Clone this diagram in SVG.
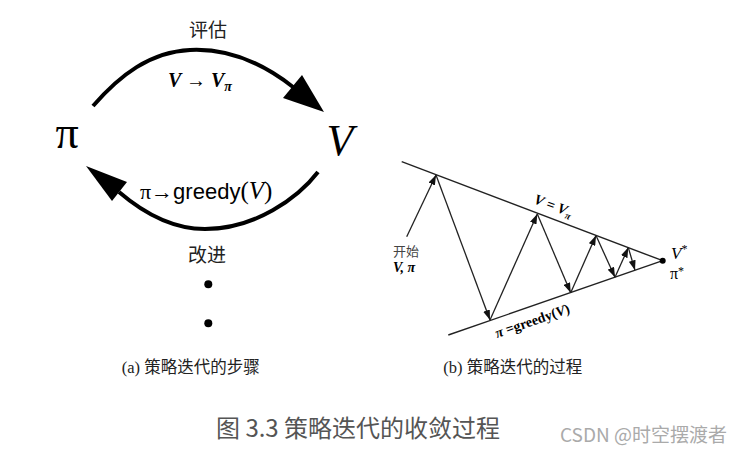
<svg xmlns="http://www.w3.org/2000/svg" width="747" height="456" viewBox="0 0 747 456">
<style>
.cjk{font-family:"Noto Sans CJK SC","Noto Sans",sans-serif}
.ser{font-family:"Liberation Serif","DejaVu Serif",serif}
.sans{font-family:"Liberation Sans","Noto Sans",sans-serif}
.bi{font-weight:bold;font-style:italic}
.thick{fill:none;stroke:#000;stroke-width:4;stroke-linecap:butt}
.thin{fill:none;stroke:#222;stroke-width:1.4}
.arr{fill:none;stroke:#222;stroke-width:1.3;marker-end:url(#ah)}
</style>
<defs>
<marker id="ah" viewBox="0 0 10 7" refX="10" refY="3.5" markerWidth="10" markerHeight="7" markerUnits="userSpaceOnUse" orient="auto">
<path d="M0,0 L10,3.5 L0,7 z" fill="#111"/>
</marker>
</defs>
<rect width="747" height="456" fill="#fff"/>

<!-- left diagram -->
<g id="node-pi"><text class="ser" x="67" y="148" font-size="46" text-anchor="middle">π</text></g>
<g id="node-V"><text class="ser" x="340" y="155" font-size="44" font-style="italic" text-anchor="middle">V</text></g>
<g id="label-eval"><text class="cjk" x="208" y="37" font-size="19" text-anchor="middle" fill="#222">评估</text></g>
<g id="label-improve"><text class="cjk" x="207" y="262" font-size="19" text-anchor="middle" fill="#222">改进</text></g>
<g id="connectors-left">
<path class="thick" d="M93,106 C120,75 150,52 190,50 C230,48 265,65 293,87"/>
<polygon points="324,112 283,98 302,75" fill="#000"/>
<path class="thick" d="M318,172 C298,198 255,229 205,229 C170,229 140,210 119,192"/>
<polygon points="86,166 112,201 127,182" fill="#000"/>
</g>
<g id="label-eval-formula"><text class="ser bi" x="200" y="87" font-size="20" text-anchor="middle">V → V<tspan font-size="14" dy="4">π</tspan></text></g>
<g id="label-greedy"><text x="140" y="199" font-size="22"><tspan class="ser">π→</tspan><tspan class="sans">greedy</tspan><tspan class="ser" font-size="25">(<tspan font-style="italic">V</tspan>)</tspan></text></g>
<g id="dots">
<circle cx="208.3" cy="284.3" r="4" fill="#000"/>
<circle cx="208.3" cy="323.3" r="4" fill="#000"/>
</g>

<!-- right diagram -->
<g id="connectors-right">
<line class="thin" x1="401.7" y1="161.7" x2="662.7" y2="260.7"/>
<line class="thin" x1="448.3" y1="335" x2="662.7" y2="260.7"/>
<line class="arr" x1="406.7" y1="236.7" x2="436" y2="175"/>
<line class="arr" x1="436" y1="175" x2="490" y2="320"/>
<line class="arr" x1="490" y1="320" x2="537.3" y2="214"/>
<line class="arr" x1="537.3" y1="214" x2="570.7" y2="292.7"/>
<line class="arr" x1="570.7" y1="292.7" x2="596" y2="235.5"/>
<line class="arr" x1="596" y1="235.5" x2="615" y2="277.3"/>
<line class="arr" x1="615" y1="277.3" x2="628.3" y2="247.6"/>
<line class="arr" x1="628.3" y1="247.6" x2="635" y2="270.3"/>
</g>
<g id="node-converge">
<circle cx="662.7" cy="260.7" r="3" fill="#000"/>
<text class="ser" x="671" y="259" font-size="17" font-style="italic">V<tspan font-size="12" dy="-6" font-style="normal">*</tspan></text>
<text class="ser" x="670" y="279" font-size="16">π<tspan font-size="12" dy="-4">*</tspan></text>
</g>
<g id="label-start">
<text class="cjk" x="393" y="256" font-size="13" fill="#444">开始</text>
<text class="ser bi" x="393" y="272" font-size="14">V, π</text>
</g>
<g id="label-top"><text class="ser bi" transform="translate(533,203) rotate(20.8)" font-size="14.5">V = V<tspan font-size="10" dy="3">π</tspan></text></g>
<g id="label-bottom"><text class="ser" font-weight="bold" transform="translate(497,338) rotate(-19.1)" font-size="14"><tspan font-style="italic">π</tspan> =greedy(<tspan font-style="italic">V</tspan>)</text></g>

<!-- captions -->
<g id="caption-a"><text x="121.7" y="373" font-size="16.5" fill="#222"><tspan class="ser">(a) </tspan><tspan class="cjk">策略迭代的步骤</tspan></text></g>
<g id="caption-b"><text x="443.3" y="373" font-size="16.5" fill="#222"><tspan class="ser">(b) </tspan><tspan class="cjk">策略迭代的过程</tspan></text></g>
<g id="caption-main"><text class="cjk" x="216" y="437" font-size="24" fill="#555">图 3.3 策略迭代的收敛过程</text></g>
<g id="watermark"><text class="cjk" x="560" y="442" font-size="19" fill="#aaa">CSDN @时空摆渡者</text></g>
</svg>
